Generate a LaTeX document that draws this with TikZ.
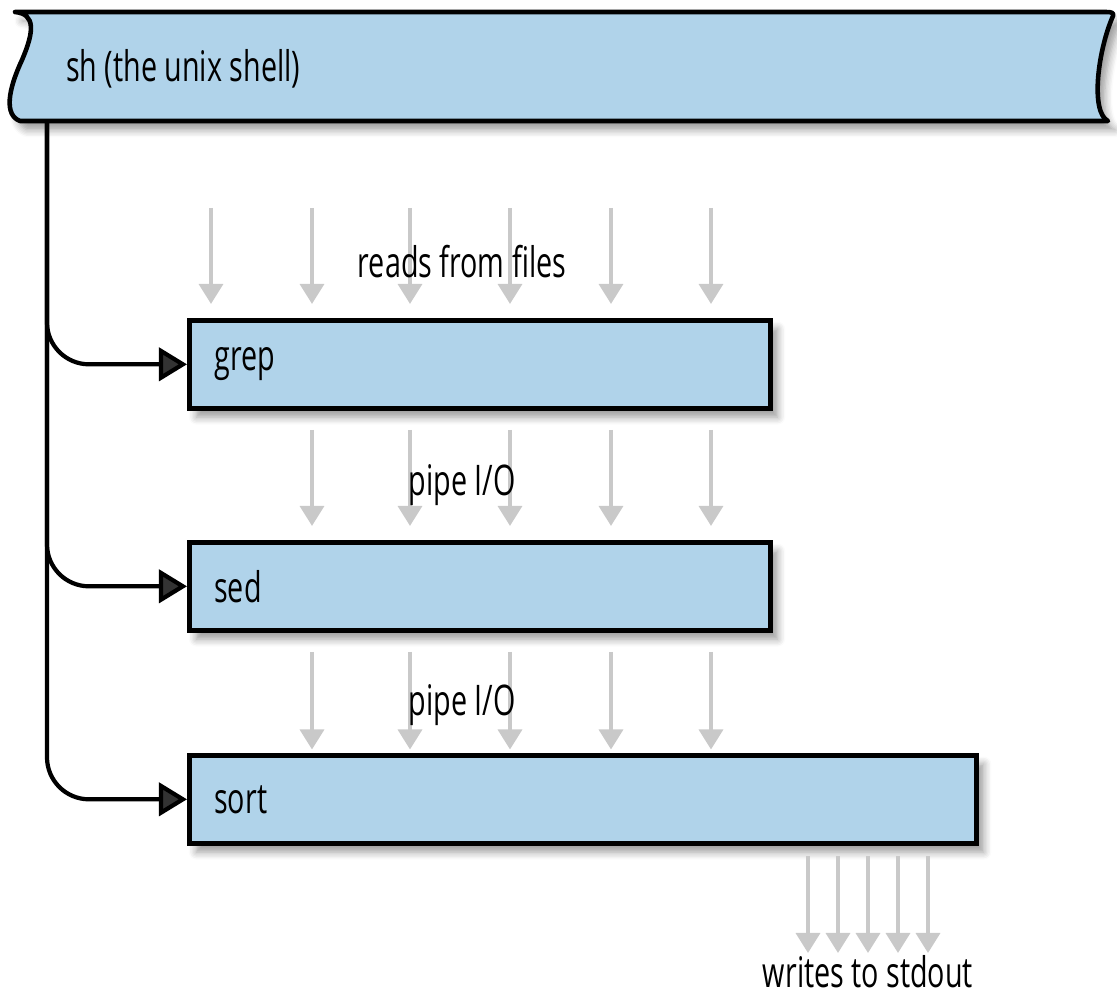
\documentclass[tikz,border=0pt]{standalone}
\usepackage{fontspec}
\setmainfont{Open Sans}[FakeStretch=0.68]
\usepackage{tikz}
\usepackage{xcolor}
\usetikzlibrary{arrows.meta,shadows.blur}

\definecolor{procblue}{HTML}{B0D3EA}
\definecolor{feedgray}{HTML}{C9C9C9}

\tikzset{
  procbox/.style={draw=black, line width=1.3pt, fill=procblue, anchor=north west,
    minimum height=0.88cm, inner xsep=0.25cm, align=left, font=\large,
    blur shadow={shadow xshift=2pt, shadow yshift=-2.5pt, shadow blur steps=6, shadow opacity=40}},
  spawn/.style={line width=1.2pt, -{Triangle[length=0.28cm,width=0.33cm]}},
  feed/.style={feedgray, line width=1pt, -{Triangle[length=0.2cm,width=0.24cm]}},
  note/.style={font=\large, inner sep=1pt}
}

\begin{document}
\begin{tikzpicture}[x=0.01cm, y=-0.01cm]
  \useasboundingbox (0,0) rectangle (1117,994);

  % the shell
  \path[fill=procblue, draw=black, line width=1.3pt, line join=round,
    blur shadow={shadow xshift=2pt, shadow yshift=-2.5pt, shadow blur steps=6, shadow opacity=40}]
    (15,12) -- (1106,12) .. controls (1112,12) and (1114,13) .. (1113,16)
    .. controls (1098,50) and (1090,112) .. (1108,121) -- (20,121)
    .. controls (4,115) and (8,90) .. (22,60) .. controls (34,32) and (36,14) .. (15,12) -- cycle;
  \node[note, anchor=west] (sh) at (62,69) {sh (the unix shell)};
  \coordinate (trunk) at (47,121);

  % processes
  \node[procbox, text width=5.31cm] (grep) at (187,318) {grep};
  \node[procbox, text width=5.31cm] (sed) at (187,540) {sed};
  \node[procbox, text width=7.37cm] (sort) at (187,753) {sort};

  \foreach \p in {grep,sed,sort}
    \draw[spawn] (trunk) -- ([yshift=0.42cm]trunk |- \p.west)
      arc[start angle=180, end angle=270, radius=0.42cm] -- (\p.west);

  % data flow
  \foreach \x in {211,312,410,510,611,711}
    \draw[feed, shorten >=4pt] (\x,208) -- (\x,0 |- grep.north);
  \node[note] (files) at (462,262) {reads from files};

  \foreach \x in {312,410,510,611,711}
    \draw[feed, shorten >=4pt] (\x,430) -- (\x,0 |- sed.north);
  \node[note] (pipe1) at (462,485) {pipe I/O};

  \foreach \x in {312,410,510,611,711}
    \draw[feed, shorten >=1pt] (\x,652) -- (\x,0 |- sort.north);
  \node[note] (pipe2) at (462,705) {pipe I/O};

  \foreach \x in {808,838,868,898,928}
    \draw[feed, shorten <=3pt] (\x,0 |- sort.south) -- (\x,953);
  \node[note] (stdout) at (868,972) {writes to stdout};
\end{tikzpicture}
\end{document}
